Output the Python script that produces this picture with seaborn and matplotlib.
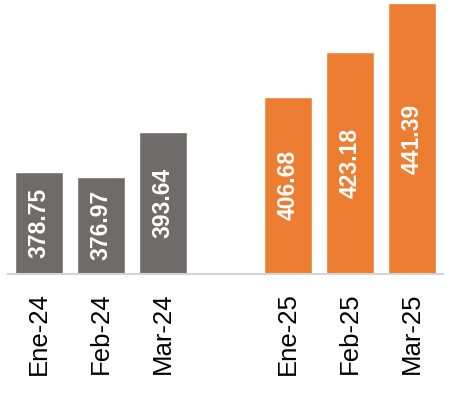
import numpy as np
import pandas as pd
import matplotlib
matplotlib.use("Agg")
import matplotlib.pyplot as plt
import seaborn as sns

# Data
months = ["Ene-24", "Feb-24", "Mar-24", "", "Ene-25", "Feb-25", "Mar-25"]
values = [378.75, 376.97, 393.64, np.nan, 406.68, 423.18, 441.39]
labels = ["378.75", "376.97", "393.64", "", "406.68", "423.18", "441.39"]
gray = "#6e6b6a"
orange = "#ed7d31"
bar_colors = [gray, gray, gray, "#ffffff", orange, orange, orange]

sns.set_style("white")
plt.rcParams["font.family"] = ["Liberation Sans", "DejaVu Sans"]

fig = plt.figure(figsize=(4.51, 3.94), dpi=100)
ax = fig.add_axes([8 / 451, 1 - 274 / 394, 435 / 451, 274 / 394])

df = pd.DataFrame({"month": months, "value": values})
sns.barplot(data=df, x="month", y="value", hue="month", order=months,
            hue_order=months, palette=dict(zip(months, bar_colors)),
            legend=False, width=0.77, ax=ax, saturation=1)

ymin, ymax = 340.9, 442.6
ax.set_ylim(ymin, ymax)
ax.set_xlim(-0.5, len(months) - 0.5)

for i, (v, lab) in enumerate(zip(values, labels)):
    if not np.isnan(v):
        ax.text(i, (ymin + v) / 2, lab, rotation=90, ha="center", va="center",
                color="white", fontsize=16.5, fontweight="bold")

ax.set_xlabel("")
ax.set_ylabel("")
ax.set_yticks([])
ax.tick_params(axis="x", length=0, pad=13, labelsize=18.5, labelcolor="black")
plt.setp(ax.get_xticklabels(), rotation=90)
for s in ["top", "left", "right"]:
    ax.spines[s].set_visible(False)
ax.spines["bottom"].set_color("#d4d4d4")
ax.spines["bottom"].set_linewidth(1.5)

fig.savefig("out.png", dpi=100)
